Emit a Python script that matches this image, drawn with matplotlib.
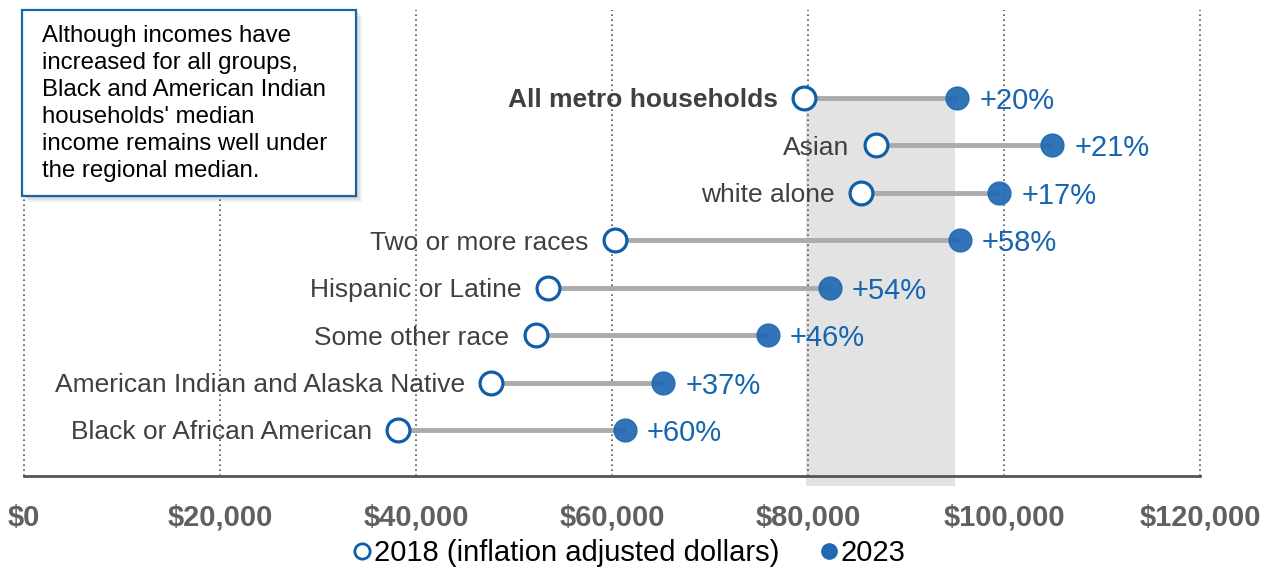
import matplotlib
matplotlib.use("Agg")
import matplotlib.pyplot as plt
from matplotlib.patches import Rectangle
from matplotlib.lines import Line2D

plt.rcParams['font.family'] = ['Liberation Sans', 'DejaVu Sans']

# data
groups = ["All metro households", "Asian", "white alone", "Two or more races",
          "Hispanic or Latine", "Some other race",
          "American Indian and Alaska Native", "Black or African American"]
income_2018 = [79600, 86900, 85400, 60300, 53500, 52200, 47700, 38200]
income_2023 = [95200, 104900, 99500, 95500, 82200, 75900, 65200, 61300]
pct_change = ["+20%", "+21%", "+17%", "+58%", "+54%", "+46%", "+37%", "+60%"]
band = (79800, 95000)
xticks = [0, 20000, 40000, 60000, 80000, 100000, 120000]
note = ("Although incomes have\nincreased for all groups,\nBlack and American Indian\n"
        "households' median\nincome remains well under\nthe regional median.")

BLUE_EDGE = "#0f5fa8"
BLUE_FILL = "#1f68b2"
BLUE_TXT = "#1565b0"
GRAY_LINE = "#ababab"
LABEL = "#404040"

fig = plt.figure(figsize=(12.73, 5.69), dpi=100)
ax = fig.add_axes([24 / 1273, 93 / 569, 1176 / 1273, 466 / 569])

# shaded band (extends a little below the axis line)
ax.axvspan(band[0], band[1], ymin=-0.021, ymax=0.807, color="#e3e3e3", zorder=0,
           clip_on=False, lw=0)

for x in xticks:
    ax.axvline(x, color="#555555", lw=1.2, ls=(0, (1, 2)), zorder=1, clip_on=False)

y = list(range(len(groups)))
for i in y:
    ax.plot([income_2018[i], income_2023[i]], [i, i], color=GRAY_LINE, lw=3.5,
            zorder=2, solid_capstyle="butt")
ax.scatter(income_2018, y, s=270, facecolor="white", edgecolor=BLUE_EDGE,
           linewidth=2.3, zorder=3)
ax.scatter(income_2023, y, s=270, facecolor=BLUE_FILL, edgecolor=BLUE_FILL,
           linewidth=1, alpha=0.92, zorder=3)

for i, g in enumerate(groups):
    ax.annotate(g, (income_2018[i], i), xytext=(-19, 0), textcoords="offset points",
                ha="right", va="center_baseline", fontsize=19, color=LABEL,
                fontweight="bold" if i == 0 else "normal")
    ax.annotate(pct_change[i], (income_2023[i], i), xytext=(16, 0),
                textcoords="offset points", ha="left", va="center_baseline",
                fontsize=21, color=BLUE_TXT)

ax.set_xlim(0, 120000)
ax.set_ylim(7.97, -1.855)
ax.set_xticks(xticks)
ax.set_xticklabels([f"${v:,.0f}" for v in xticks], fontsize=21,
                   fontweight="bold", color="#606060")
ax.tick_params(axis="x", length=0, pad=20)
ax.set_yticks([])
for s in ["top", "left", "right"]:
    ax.spines[s].set_visible(False)
ax.spines["bottom"].set_color("#555555")
ax.spines["bottom"].set_linewidth(2)
ax.spines["bottom"].set_zorder(4)

# callout box with a soft shadow
bx, by, bw, bh = 22 / 1273, 1 - 196 / 569, 334 / 1273, 186 / 569
for k, a in [(6, 0.10), (4, 0.15), (2, 0.20)]:
    fig.patches.append(Rectangle((bx + k / 1273, by - k / 569), bw, bh,
                                 transform=fig.transFigure, facecolor="#808080",
                                 edgecolor="none", alpha=a, zorder=5))
fig.patches.append(Rectangle((bx, by), bw, bh, transform=fig.transFigure,
                             facecolor="white", edgecolor="#1a63ad", lw=1.6,
                             zorder=6))
fig.text(42 / 1273, 1 - 25 / 569, note, ha="left", va="top", fontsize=17.3,
         color="black", linespacing=1.29, zorder=7)

handles = [
    Line2D([], [], marker="o", ls="none", markersize=11, markerfacecolor="white",
           markeredgecolor=BLUE_EDGE, markeredgewidth=2),
    Line2D([], [], marker="o", ls="none", markersize=11, markerfacecolor=BLUE_FILL,
           markeredgecolor=BLUE_FILL),
]
fig.legend(handles, ["2018 (inflation adjusted dollars)", "2023"], loc="center",
           bbox_to_anchor=(628 / 1273, 16 / 569), ncol=2, frameon=False,
           fontsize=21, handletextpad=0.0, columnspacing=1.3, handlelength=0.8)

fig.savefig("out.png", dpi=100)
